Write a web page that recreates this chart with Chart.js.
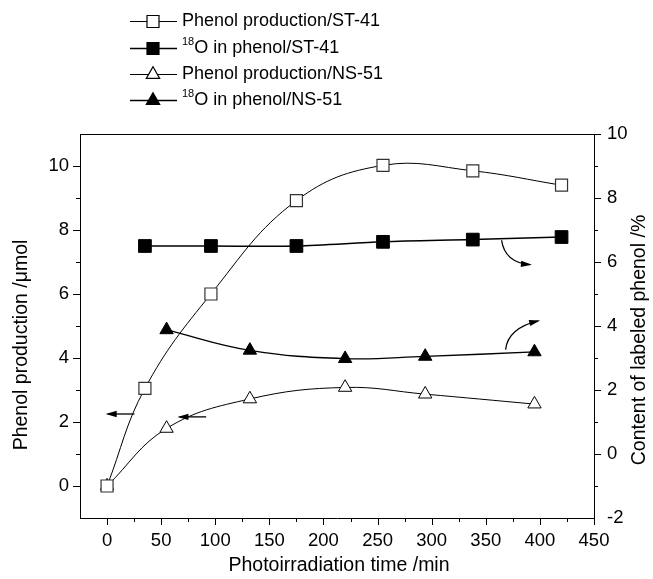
<!DOCTYPE html>
<html>
<head>
<meta charset="utf-8">
<script src="https://cdn.jsdelivr.net/npm/chart.js@4"></script>
<style>
    html, body { margin: 0; padding: 0; background: #fff; }
</style>
</head>
<body>
<canvas id="graph" width="653" height="579"></canvas>
<script>
// ==========================================
// DONNÉES
// ==========================================

// Phenol production / ST-41 (axe gauche, µmol)
const tempsST = [0, 35, 96, 175, 255, 338, 420];
const phenolST = [0, 3.05, 6.0, 8.92, 10.02, 9.85, 9.40];

// 18O in phenol / ST-41 (axe droit, %)
const temps18ST = [35, 96, 175, 255, 338, 420];
const o18ST = [6.5, 6.5, 6.5, 6.63, 6.7, 6.78];

// Phenol production / NS-51 (axe gauche, µmol)
const tempsNS = [0, 55, 132, 220, 294, 395];
const phenolNS = [0, 1.8, 2.72, 3.08, 2.87, 2.56];

// 18O in phenol / NS-51 (axe droit, %)
const temps18NS = [55, 132, 220, 294, 395];
const o18NS = [3.88, 3.24, 2.98, 3.05, 3.19];

// Graduations
const ticksX = [0, 50, 100, 150, 200, 250, 300, 350, 400, 450];
const ticksGauche = [0, 2, 4, 6, 8, 10];
const ticksDroite = [-2, 0, 2, 4, 6, 8, 10];

// Flèches (de, vers, point de contrôle éventuel, axe)
const fleches = [
    { de: [25.3, 2.25], vers: [0.6, 2.25], axe: "y" },
    { de: [91.6, 2.16], vers: [66.9, 2.16], axe: "y" },
    { de: [364.6, 6.68], ctrl: [367.6, 5.98], vers: [390.8, 5.92], axe: "y2" },
    { de: [368.3, 3.26], ctrl: [370.4, 3.93], vers: [398.4, 4.16], axe: "y2" }
];

const POLICE = "'Liberation Sans', Arial, Helvetica, sans-serif";

function points(xs, ys) {
    return xs.map((x, i) => ({ x: x, y: ys[i] }));
}

// ==========================================
// LÉGENDE
// ==========================================

const legende = [
    { sup: "", texte: "Phenol production/ST-41", forme: "rect", plein: false },
    { sup: "18", texte: "O in phenol/ST-41", forme: "rect", plein: true },
    { sup: "", texte: "Phenol production/NS-51", forme: "triangle", plein: false },
    { sup: "18", texte: "O in phenol/NS-51", forme: "triangle", plein: true }
];

function dessinerSymbole(ctx, forme, plein, x, y) {
    ctx.beginPath();
    if (forme === "rect") {
        const s = 6;
        ctx.rect(x - s, y - s, 2 * s, 2 * s);
    } else {
        const r = 7.7;
        ctx.moveTo(x, y - r);
        ctx.lineTo(x + r * 0.866, y + r / 2);
        ctx.lineTo(x - r * 0.866, y + r / 2);
        ctx.closePath();
    }
    ctx.fillStyle = plein ? "#000" : "#fff";
    ctx.fill();
    ctx.lineWidth = 1.2;
    ctx.strokeStyle = "#000";
    ctx.stroke();
}

function dessinerFleche(ctx, x0, y0, cx, cy, x1, y1) {
    ctx.beginPath();
    ctx.moveTo(x0, y0);
    let ax, ay;
    if (cx !== null) {
        ctx.quadraticCurveTo(cx, cy, x1, y1);
        ax = x1 - cx; ay = y1 - cy;
    } else {
        ctx.lineTo(x1, y1);
        ax = x1 - x0; ay = y1 - y0;
    }
    ctx.lineWidth = 1.3;
    ctx.strokeStyle = "#000";
    ctx.stroke();
    const n = Math.hypot(ax, ay);
    ax /= n; ay /= n;
    const L = 9, W = 3.2;
    ctx.beginPath();
    ctx.moveTo(x1 + ax * 2, y1 + ay * 2);
    ctx.lineTo(x1 - ax * L - ay * W, y1 - ay * L + ax * W);
    ctx.lineTo(x1 - ax * L + ay * W, y1 - ay * L - ax * W);
    ctx.closePath();
    ctx.fillStyle = "#000";
    ctx.fill();
}

const decor = {
    id: "decor",
    afterDraw(chart) {
        const ctx = chart.ctx;
        const a = chart.chartArea;
        const sx = chart.scales.x;
        const sy = chart.scales.y;
        const sy2 = chart.scales.y2;

        ctx.save();
        ctx.strokeStyle = "#000";
        ctx.lineWidth = 1;

        // cadre du haut
        ctx.beginPath();
        ctx.moveTo(a.left, a.top + 0.5);
        ctx.lineTo(a.right, a.top + 0.5);
        ctx.stroke();

        // graduations X
        ctx.beginPath();
        for (let v = 0; v <= 450; v += 25) {
            const px = Math.round(sx.getPixelForValue(v)) + 0.5;
            const l = (v % 50 === 0) ? 7 : 4;
            ctx.moveTo(px, a.bottom);
            ctx.lineTo(px, a.bottom + l);
        }
        // graduations gauche
        for (let v = 0; v <= 10; v++) {
            const py = Math.round(sy.getPixelForValue(v)) + 0.5;
            const l = (v % 2 === 0) ? 7 : 4;
            ctx.moveTo(a.left, py);
            ctx.lineTo(a.left - l, py);
        }
        // graduations droite
        for (let v = -1; v <= 10; v++) {
            const py = Math.round(sy2.getPixelForValue(v)) + 0.5;
            const l = (v % 2 === 0) ? 7 : 4;
            ctx.moveTo(a.right, py);
            ctx.lineTo(a.right + l, py);
        }
        ctx.stroke();

        // flèches
        fleches.forEach(f => {
            const s = chart.scales[f.axe];
            const x0 = sx.getPixelForValue(f.de[0]), y0 = s.getPixelForValue(f.de[1]);
            const x1 = sx.getPixelForValue(f.vers[0]), y1 = s.getPixelForValue(f.vers[1]);
            let cx = null, cy = null;
            if (f.ctrl) {
                cx = sx.getPixelForValue(f.ctrl[0]);
                cy = s.getPixelForValue(f.ctrl[1]);
            }
            dessinerFleche(ctx, x0, y0, cx, cy, x1, y1);
        });

        // légende
        const yLignes = [21, 48, 74, 100];
        legende.forEach((e, i) => {
            const y = yLignes[i];
            ctx.beginPath();
            ctx.moveTo(130, y + 0.5);
            ctx.lineTo(177, y + 0.5);
            ctx.lineWidth = e.plein ? 1.5 : 1;
            ctx.strokeStyle = "#000";
            ctx.stroke();
            dessinerSymbole(ctx, e.forme, e.plein, 153, y + 0.5);
            ctx.fillStyle = "#000";
            ctx.textBaseline = "middle";
            ctx.textAlign = "left";
            let x = 182;
            if (e.sup) {
                ctx.font = "11px " + POLICE;
                ctx.fillText(e.sup, x, y - 6);
                x += ctx.measureText(e.sup).width;
            }
            ctx.font = "18px " + POLICE;
            ctx.fillText(e.texte, x, y);
        });

        // titres des axes
        ctx.fillStyle = "#000";
        ctx.font = "19.5px " + POLICE;
        ctx.textAlign = "center";
        ctx.textBaseline = "middle";
        ctx.fillText("Photoirradiation time /min", 339, 566);

        ctx.save();
        ctx.translate(22, 345);
        ctx.rotate(-Math.PI / 2);
        ctx.fillText("Phenol production /\u03bcmol", 0, 0);
        ctx.restore();

        ctx.save();
        ctx.translate(640, 340);
        ctx.rotate(-Math.PI / 2);
        ctx.fillText("Content of labeled phenol /%", 0, 0);
        ctx.restore();

        ctx.restore();
    }
};

// ==========================================
// GRAPHIQUE
// ==========================================

const policeTicks = { family: POLICE, size: 18.5 };

new Chart(document.getElementById("graph"), {

    type: "scatter",

    data: {
        datasets: [
            {
                label: "Phenol production/ST-41",
                data: points(tempsST, phenolST),
                yAxisID: "y",
                showLine: true,
                borderColor: "#000",
                borderWidth: 1,
                tension: 0.4,
                pointStyle: "rect",
                pointRadius: 8.5,
                pointBackgroundColor: "#fff",
                pointBorderColor: "#333",
                pointBorderWidth: 1.2
            },
            {
                label: "18O in phenol/ST-41",
                data: points(temps18ST, o18ST),
                yAxisID: "y2",
                showLine: true,
                borderColor: "#000",
                borderWidth: 1.5,
                tension: 0.3,
                pointStyle: "rect",
                pointRadius: 9,
                pointBackgroundColor: "#000",
                pointBorderColor: "#000",
                pointBorderWidth: 1
            },
            {
                label: "Phenol production/NS-51",
                data: points(tempsNS, phenolNS),
                yAxisID: "y",
                showLine: true,
                borderColor: "#000",
                borderWidth: 1,
                tension: 0.4,
                pointStyle: "triangle",
                pointRadius: 7.7,
                pointBackgroundColor: "#fff",
                pointBorderColor: "#000",
                pointBorderWidth: 1
            },
            {
                label: "18O in phenol/NS-51",
                data: points(temps18NS, o18NS),
                yAxisID: "y2",
                showLine: true,
                borderColor: "#000",
                borderWidth: 1.3,
                tension: 0.4,
                pointStyle: "triangle",
                pointRadius: 7.7,
                pointBackgroundColor: "#000",
                pointBorderColor: "#000",
                pointBorderWidth: 1
            }
        ]
    },

    options: {
        responsive: false,
        animation: false,
        devicePixelRatio: 1,
        layout: { padding: { top: 134, left: 0, right: 0, bottom: 0 } },
        plugins: {
            legend: { display: false },
            tooltip: { enabled: false }
        },
        scales: {
            x: {
                type: "linear",
                position: "bottom",
                min: -25,
                max: 450,
                afterBuildTicks: s => { s.ticks = ticksX.map(v => ({ value: v })); },
                afterFit: s => { s.height = 61; },
                grid: { display: false, drawTicks: false },
                border: { display: true, color: "#000", width: 1 },
                ticks: { color: "#000", font: policeTicks, padding: 12, maxRotation: 0, autoSkip: false }
            },
            y: {
                type: "linear",
                position: "left",
                min: -1,
                max: 11,
                afterBuildTicks: s => { s.ticks = ticksGauche.map(v => ({ value: v })); },
                afterFit: s => { s.width = 80; },
                grid: { display: false, drawTicks: false },
                border: { display: true, color: "#000", width: 1 },
                ticks: { color: "#000", font: policeTicks, padding: 11, autoSkip: false }
            },
            y2: {
                type: "linear",
                position: "right",
                min: -2,
                max: 10,
                afterBuildTicks: s => { s.ticks = ticksDroite.map(v => ({ value: v })); },
                afterFit: s => { s.width = 59; },
                grid: { display: false, drawTicks: false },
                border: { display: true, color: "#000", width: 1 },
                ticks: { color: "#000", font: policeTicks, padding: 13, autoSkip: false }
            }
        }
    },

    plugins: [decor]

});
</script>
</body>
</html>
